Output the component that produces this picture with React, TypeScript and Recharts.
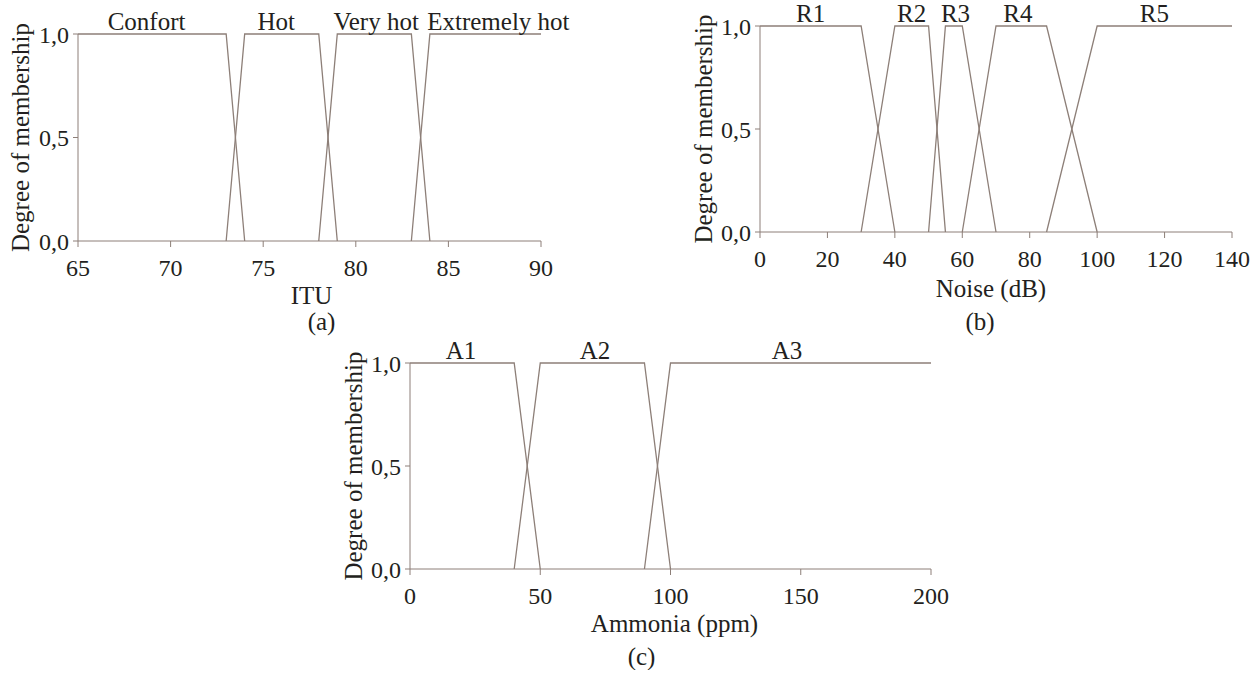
import React from 'react';
import { LineChart, Line, XAxis, YAxis, Label, ReferenceDot } from 'recharts';

// ---- data ----
const Y_TICKS = [0, 0.5, 1];

const ITU_TICKS = [65, 70, 75, 80, 85, 90];
const ITU_NAMES = ['Confort', 'Hot', 'Very hot', 'Extremely hot'];
const ITU_LABEL_X = [68.7, 75.7, 81.1, 87.7];
const ITU_CONFORT = [[65, 1], [73, 1], [74, 0]];
const ITU_HOT = [[73, 0], [74, 1], [78, 1], [79, 0]];
const ITU_VERY_HOT = [[78, 0], [79, 1], [83, 1], [84, 0]];
const ITU_EXTREMELY_HOT = [[83, 0], [84, 1], [90, 1]];

const NOISE_TICKS = [0, 20, 40, 60, 80, 100, 120, 140];
const NOISE_NAMES = ['R1', 'R2', 'R3', 'R4', 'R5'];
const NOISE_LABEL_X = [15, 45, 58, 76.5, 117];
const NOISE_R1 = [[0, 1], [30, 1], [40, 0]];
const NOISE_R2 = [[30, 0], [40, 1], [50, 1], [55, 0]];
const NOISE_R3 = [[50, 0], [55, 1], [60, 1], [70, 0]];
const NOISE_R4 = [[60, 0], [70, 1], [85, 1], [100, 0]];
const NOISE_R5 = [[85, 0], [100, 1], [140, 1]];

const AMMONIA_TICKS = [0, 50, 100, 150, 200];
const AMMONIA_NAMES = ['A1', 'A2', 'A3'];
const AMMONIA_LABEL_X = [19.6, 71, 144.7];
const AMMONIA_A1 = [[0, 1], [40, 1], [50, 0]];
const AMMONIA_A2 = [[40, 0], [50, 1], [90, 1], [100, 0]];
const AMMONIA_A3 = [[90, 0], [100, 1], [200, 1]];

const LINE = '#8d7f78';
const INK = '#231f20';
const FONT = '"Liberation Serif", "Times New Roman", serif';

const toPoints = (pts: number[][]) => pts.map(([x, y]) => ({ x, y }));
const fmtY = (v: number) => v.toFixed(1).replace('.', ',');

interface PanelProps {
  left: number;
  top: number;
  width: number;
  height: number;
  margin: { top: number; right: number; left: number; bottom: number };
  yWidth: number;
  xHeight: number;
  ticks: number[];
  series: number[][][];
  names: string[];
  labelX: number[];
  xTitle: string;
  tag: string;
  yTitleOffset: number;
  xTitleOffset: number;
  xTitleDx: number;
  tagOffset: number;
  tagDx: number;
}

const Panel: React.FC<PanelProps> = (p) => {
  const domain: [number, number] = [p.ticks[0], p.ticks[p.ticks.length - 1]];
  return (
    <div style={{ position: 'absolute', left: p.left, top: p.top }}>
      <LineChart width={p.width} height={p.height} margin={p.margin}>
        <XAxis
          type="number"
          dataKey="x"
          domain={domain}
          ticks={p.ticks}
          allowDataOverflow
          height={p.xHeight}
          stroke={LINE}
          tickSize={6}
          tickMargin={12}
          tick={{ fill: INK, fontSize: 24, fontFamily: FONT }}
        >
          <Label
            value={p.xTitle}
            position="insideBottom"
            offset={p.xTitleOffset}
            dx={p.xTitleDx}
            style={{ fill: INK, fontSize: 25, fontFamily: FONT }}
          />
          <Label
            value={p.tag}
            position="insideBottom"
            offset={p.tagOffset}
            dx={p.tagDx}
            style={{ fill: INK, fontSize: 25, fontFamily: FONT }}
          />
        </XAxis>
        <YAxis
          type="number"
          domain={[0, 1]}
          ticks={Y_TICKS}
          width={p.yWidth}
          stroke={LINE}
          tickSize={5}
          tickMargin={4}
          tickFormatter={fmtY}
          tick={{ fill: INK, fontSize: 24, fontFamily: FONT }}
        >
          <Label
            value="Degree of membership"
            angle={-90}
            position="insideLeft"
            offset={p.yTitleOffset}
            style={{ textAnchor: 'middle', fill: INK, fontSize: 25, fontFamily: FONT }}
          />
        </YAxis>
        {p.series.map((s, i) => (
          <Line
            key={p.names[i]}
            data={toPoints(s)}
            dataKey="y"
            type="linear"
            stroke={LINE}
            strokeWidth={1.3}
            dot={false}
            activeDot={false}
            isAnimationActive={false}
          />
        ))}
        {p.names.map((n, i) => (
          <ReferenceDot
            key={`lbl-${n}`}
            x={p.labelX[i]}
            y={1}
            r={0}
            fill="none"
            stroke="none"
            label={{ value: n, position: 'top', offset: 4, fill: INK, fontSize: 25, fontFamily: FONT }}
          />
        ))}
      </LineChart>
    </div>
  );
};

export default function App() {
  return (
    <div
      style={{
        position: 'absolute',
        left: 0,
        top: 0,
        width: 1260,
        height: 675,
        background: '#fff',
        overflow: 'hidden',
      }}
    >
      <Panel
        left={0}
        top={0}
        width={590}
        height={341}
        margin={{ top: 34, right: 49, left: 0, bottom: 0 }}
        yWidth={78}
        xHeight={100}
        ticks={ITU_TICKS}
        series={[ITU_CONFORT, ITU_HOT, ITU_VERY_HOT, ITU_EXTREMELY_HOT]}
        names={ITU_NAMES}
        labelX={ITU_LABEL_X}
        xTitle="ITU"
        tag="(a)"
        yTitleOffset={20}
        xTitleOffset={37}
        xTitleDx={2}
        tagOffset={11}
        tagDx={12}
      />
      <Panel
        left={680}
        top={0}
        width={580}
        height={336}
        margin={{ top: 26, right: 28, left: 0, bottom: 0 }}
        yWidth={80}
        xHeight={104}
        ticks={NOISE_TICKS}
        series={[NOISE_R1, NOISE_R2, NOISE_R3, NOISE_R4, NOISE_R5]}
        names={NOISE_NAMES}
        labelX={NOISE_LABEL_X}
        xTitle="Noise (dB)"
        tag="(b)"
        yTitleOffset={23}
        xTitleOffset={39}
        xTitleDx={-5}
        tagOffset={6}
        tagDx={-16}
      />
      <Panel
        left={330}
        top={330}
        width={620}
        height={340}
        margin={{ top: 33, right: 19, left: 0, bottom: 0 }}
        yWidth={80}
        xHeight={101}
        ticks={AMMONIA_TICKS}
        series={[AMMONIA_A1, AMMONIA_A2, AMMONIA_A3]}
        names={AMMONIA_NAMES}
        labelX={AMMONIA_LABEL_X}
        xTitle="Ammonia (ppm)"
        tag="(c)"
        yTitleOffset={23}
        xTitleOffset={38}
        xTitleDx={4}
        tagOffset={5}
        tagDx={-29}
      />
    </div>
  );
}
